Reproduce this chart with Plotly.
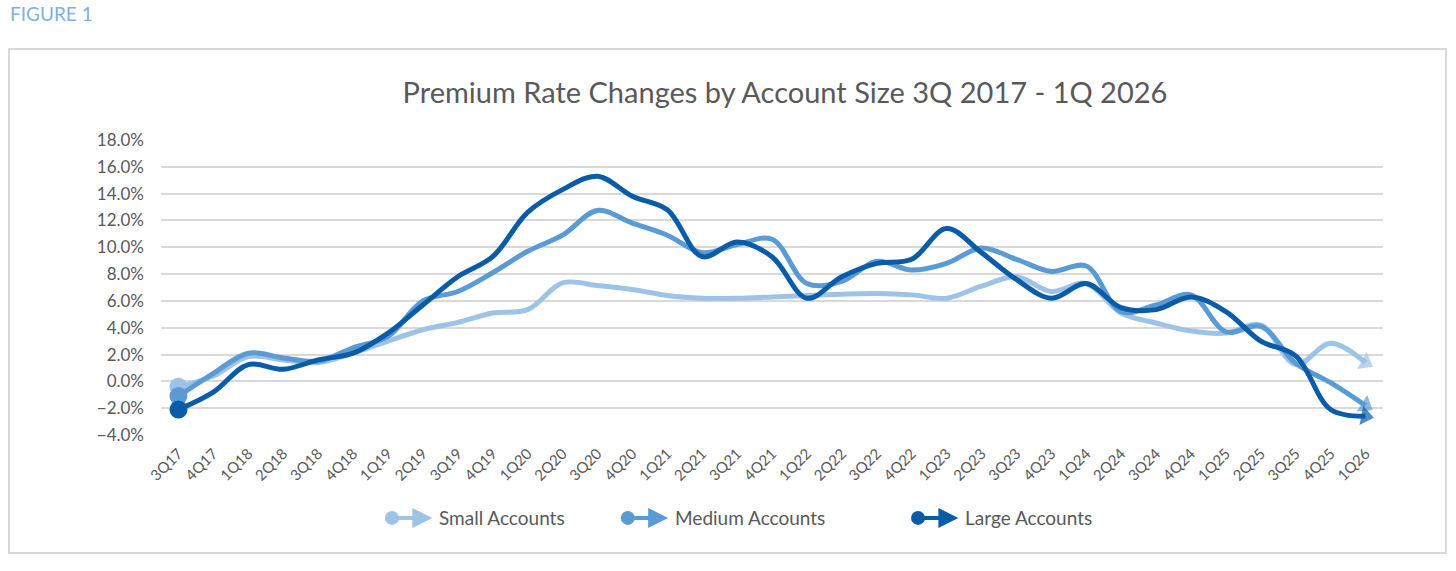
import plotly.graph_objects as go

quarters = ["3Q17", "4Q17", "1Q18", "2Q18", "3Q18", "4Q18", "1Q19", "2Q19", "3Q19", "4Q19",
            "1Q20", "2Q20", "3Q20", "4Q20", "1Q21", "2Q21", "3Q21", "4Q21", "1Q22", "2Q22",
            "3Q22", "4Q22", "1Q23", "2Q23", "3Q23", "4Q23", "1Q24", "2Q24", "3Q24", "4Q24",
            "1Q25", "2Q25", "3Q25", "4Q25", "1Q26"]

small = [-0.4, 0.4, 1.85, 1.6, 1.4, 2.1, 3.0, 3.85, 4.4, 5.1,
         5.35, 7.35, 7.15, 6.85, 6.4, 6.2, 6.2, 6.3, 6.4, 6.5,
         6.55, 6.45, 6.2, 7.1, 7.8, 6.7, 7.3, 5.1, 4.35, 3.75,
         3.6, 4.2, 1.25, 2.85, 1.4]

medium = [-1.1, 0.6, 2.1, 1.75, 1.5, 2.5, 3.35, 6.0, 6.7, 8.1,
          9.7, 10.9, 12.75, 11.8, 10.9, 9.6, 10.2, 10.6, 7.3, 7.45,
          8.95, 8.3, 8.8, 9.95, 9.1, 8.2, 8.6, 5.2, 5.7, 6.45,
          3.7, 4.1, 1.35, -0.1, -1.8]

large = [-2.1, -0.8, 1.25, 0.9, 1.6, 2.1, 3.6, 5.7, 7.8, 9.3,
         12.6, 14.3, 15.3, 13.8, 12.8, 9.3, 10.4, 9.3, 6.2, 7.8,
         8.8, 9.1, 11.4, 9.6, 7.6, 6.2, 7.3, 5.5, 5.35, 6.3,
         5.2, 3.0, 1.9, -2.1, -2.6]

series_names = ["Small Accounts", "Medium Accounts", "Large Accounts"]
colors = ["#9DC3E6", "#5B9BD5", "#0B5CA8"]
series = [small, medium, large]

fig = go.Figure()
for name, vals, col in zip(series_names, series, colors):
    fig.add_trace(go.Scatter(
        x=quarters, y=vals, mode="lines", name=name, showlegend=False,
        line=dict(color=col, width=5, shape="spline", smoothing=1.0),
        hoverinfo="skip"))
    # start dot
    fig.add_trace(go.Scatter(
        x=quarters[:1], y=vals[:1], mode="markers", showlegend=False,
        marker=dict(symbol="circle", size=18, color=col), hoverinfo="skip"))
    # end arrow
    fig.add_trace(go.Scatter(
        x=quarters[-2:], y=vals[-2:], mode="markers", showlegend=False,
        marker=dict(symbol="triangle-up", size=[0, 17], color=col, angleref="previous",
                    line=dict(width=0)),
        hoverinfo="skip"))

font_family = "Lato, 'Open Sans', sans-serif"
text_gray = "#595959"

# custom legend
legend_x = [0.189, 0.382, 0.6195]
legend_y = -0.281
annotations = []
shapes = []
for name, col, lx in zip(series_names, colors, legend_x):
    shapes.append(dict(type="circle", xref="paper", yref="paper",
                       xsizemode="pixel", ysizemode="pixel",
                       xanchor=lx, yanchor=legend_y,
                       x0=-7, x1=7, y0=-7, y1=7,
                       fillcolor=col, line=dict(width=0)))
    annotations.append(dict(xref="paper", yref="paper", x=lx + 0.033, y=legend_y,
                            ax=-36, ay=0, text="", showarrow=True,
                            arrowhead=2, arrowsize=1.0, arrowwidth=4,
                            arrowcolor=col, standoff=0, startstandoff=0))
    annotations.append(dict(xref="paper", yref="paper", x=lx + 0.037, y=legend_y,
                            text=name, showarrow=False, xanchor="left", yanchor="middle",
                            font=dict(size=19, color=text_gray, family=font_family)))

annotations.append(dict(xref="paper", yref="paper", x=-0.125, y=1.43,
                        text="FIGURE 1", showarrow=False, xanchor="left", yanchor="middle",
                        font=dict(size=19, color="#7FB2DD", family=font_family)))

# outer border
shapes.append(dict(type="rect", xref="paper", yref="paper",
                   x0=(9 - 161) / 1222, x1=(1446 - 161) / 1222,
                   y0=(435 - 553) / 295, y1=(435 - 49) / 295,
                   line=dict(color="#D9D9D9", width=2), fillcolor="rgba(0,0,0,0)", layer="below"))

fig.update_layout(
    width=1456, height=571,
    margin=dict(l=161, r=73, t=140, b=136),
    paper_bgcolor="white", plot_bgcolor="white",
    title=dict(text="Premium Rate Changes by Account Size 3Q 2017 - 1Q 2026",
               x=(785 - 0) / 1456, xanchor="center", y=1 - 93 / 571, yanchor="middle",
               font=dict(size=29, color=text_gray, family=font_family)),
    font=dict(family=font_family, color=text_gray),
    annotations=annotations, shapes=shapes,
    showlegend=False,
)
fig.update_xaxes(type="category", range=[-0.5, len(quarters) - 0.5],
                 tickangle=-45, showgrid=False, zeroline=False, showline=False,
                 ticks="", tickfont=dict(size=15, color=text_gray, family=font_family),
                 ticklabelstandoff=6)
fig.update_yaxes(range=[-4, 18], dtick=2, tickformat=".1f", ticksuffix="%",
                 showgrid=True, gridcolor="#D9D9D9", gridwidth=1.5,
                 zeroline=False, showline=False, ticks="",
                 tickfont=dict(size=17, color=text_gray, family=font_family),
                 ticklabelstandoff=16)

fig.write_html("out.html")
